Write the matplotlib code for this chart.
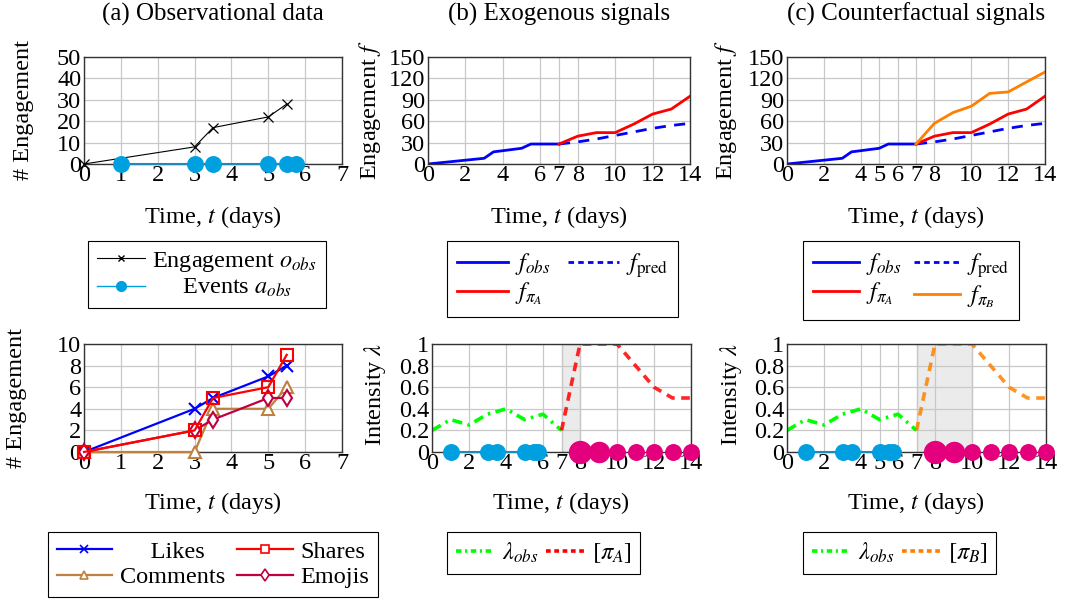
import matplotlib
matplotlib.use("Agg")
import matplotlib.pyplot as plt
from matplotlib.lines import Line2D
from matplotlib.ticker import FormatStrFormatter

plt.rcParams["font.family"] = ["Liberation Serif", "DejaVu Serif"]
plt.rcParams["mathtext.fontset"] = "stix"

# ---- data ----
obs_days = [0, 3, 3.5, 5, 5.5]
engagement_obs = [0, 8, 17, 22, 28]
event_days = [1, 3, 3.5, 5, 5.5, 5.75]

likes = [0, 4, 5, 7, 8]
shares = [0, 2, 5, 6, 9]
comments = [0, 0, 4, 4, 6]
emojis = [0, 2, 3, 5, 5]

f_obs_t = [0, 3, 3.5, 5, 5.5, 7]
f_obs = [0, 8, 17, 22, 28, 28]
future_t = [7, 8, 9, 10, 11, 12, 13, 14]
f_pred = [28, 31, 35, 40, 45, 50, 54, 57]
f_pi_a = [28, 39, 44, 44, 56, 70, 77, 95]
f_pi_b = [28, 57, 72, 81, 99, 101, 115, 129]

lam_t = [0, 1, 2, 3, 4, 5, 6, 7]
lam_obs = [0.2, 0.3, 0.25, 0.35, 0.4, 0.3, 0.35, 0.2]
lam_pi = [0.2, 1, 1, 1, 0.8, 0.6, 0.5, 0.5]

treat_days = [8, 9, 10, 11, 12, 13, 14]
treat_count = [3, 2, 1, 1, 1, 1, 1]

window_a = (7, 8)
window_b = (7, 10)

ticks_a = [0, 1, 2, 3, 4, 5, 6, 7]
ticks_b = [0, 2, 4, 6, 7, 8, 10, 12, 14]
ticks_c = [0, 2, 4, 5, 6, 7, 8, 10, 12, 14]

# ---- colours ----
C_EVT = "#00a0e0"
C_EVT_LINE = "#2288b8"
C_TREAT = "#e4007c"
C_BROWN = "#bf8040"
C_PURPLE = "#bf0040"
C_GREEN = "#00ff00"
C_ORANGE = "#ff8000"

FS = 17.5

W, H = 1065, 610
fig = plt.figure(figsize=(W / 100, H / 100), dpi=100)


def box(x0, y0, x1, y1):
    return [x0 / W, 1 - y1 / H, (x1 - x0) / W, (y1 - y0) / H]


def style(ax, xlim, ylim, xticks, yticks):
    ax.set_xlim(*xlim)
    ax.set_ylim(*ylim)
    ax.set_xticks(xticks)
    ax.set_yticks(yticks)
    ax.yaxis.set_major_formatter(FormatStrFormatter("%g"))
    ax.grid(True, color="#c8c8c8", lw=0.9)
    ax.set_axisbelow(True)
    ax.tick_params(direction="in", length=0, labelsize=FS, pad=1)
    ax.tick_params(axis="y", pad=2)
    for s in ax.spines.values():
        s.set_color("#333333")
        s.set_linewidth(1)


def ftext(x, y, s, size=FS, **kw):
    fig.text(x / W, 1 - y / H, s, ha="center", va="center", fontsize=size, **kw)


def events(ax, days):
    ax.plot(days, [0] * len(days), color=C_EVT_LINE, lw=1.5, zorder=4, clip_on=False)
    ax.plot(days, [0] * len(days), "o", color=C_EVT, ms=12.2, mew=0, zorder=5, clip_on=False)


def treatments(ax):
    for d, n in zip(treat_days, treat_count):
        size = {1: 12.2, 2: 15.5, 3: 16.8}[n]
        ax.plot([d], [0], "o", color=C_TREAT, ms=size, mew=0, zorder=5, clip_on=False)


# ---- (a) top ----
ax = fig.add_axes(box(84, 57, 342, 164))
style(ax, (0, 7), (0, 50), ticks_a, [0, 10, 20, 30, 40, 50])
ax.plot(obs_days, engagement_obs, "-x", color="black", lw=0.8, ms=7, mew=0.9, zorder=3, clip_on=False)
events(ax, event_days)

# ---- (b) top ----
ax = fig.add_axes(box(428, 57, 690, 164))
style(ax, (0, 14), (0, 150), ticks_b, [0, 30, 60, 90, 120, 150])
ax.plot(f_obs_t, f_obs, color="blue", lw=2)
ax.plot(future_t, f_pred, color="blue", lw=2, dashes=(4, 3))
ax.plot(future_t, f_pi_a, color="red", lw=2)

# ---- (c) top ----
ax = fig.add_axes(box(787, 57, 1045, 164))
style(ax, (0, 14), (0, 150), ticks_c, [0, 30, 60, 90, 120, 150])
ax.plot(f_obs_t, f_obs, color="blue", lw=2)
ax.plot(future_t, f_pred, color="blue", lw=2, dashes=(4, 3))
ax.plot(future_t, f_pi_a, color="red", lw=2)
ax.plot(future_t, f_pi_b, color=C_ORANGE, lw=2)

# ---- (a) bottom ----
ax = fig.add_axes(box(84, 344, 342, 452))
style(ax, (0, 7), (0, 10), ticks_a, [0, 2, 4, 6, 8, 10])
mk = dict(lw=1.6, ms=8, mew=1.5, clip_on=False, zorder=4)
ax.plot(obs_days, likes, "-x", color="blue", **mk)
ax.plot(obs_days, comments, "-^", color=C_BROWN, mfc="white", **mk)
ax.plot(obs_days, emojis, "-d", color=C_PURPLE, mfc="white", **mk)
ax.plot(obs_days, shares, "-s", color="red", mfc="none", **mk)

# ---- (b) bottom ----
ax = fig.add_axes(box(432, 344, 691, 452))
style(ax, (0, 14), (0, 1), ticks_b, [0, 0.2, 0.4, 0.6, 0.8, 1])
ax.axvspan(*window_a, facecolor="#ebebeb", edgecolor="#808080", lw=0.8, zorder=0.5)
ax.plot(lam_t, lam_obs, color=C_GREEN, lw=2.6, dashes=(2.8, 1.5, 0.7, 1.5))
ax.plot(future_t, lam_pi, color="red", lw=2.6, dashes=(2.4, 1.8), alpha=0.85)
events(ax, event_days)
treatments(ax)

# ---- (c) bottom ----
ax = fig.add_axes(box(787, 344, 1046, 452))
style(ax, (0, 14), (0, 1), ticks_c, [0, 0.2, 0.4, 0.6, 0.8, 1])
ax.axvspan(*window_b, facecolor="#ebebeb", edgecolor="#808080", lw=0.8, zorder=0.5)
ax.plot(lam_t, lam_obs, color=C_GREEN, lw=2.6, dashes=(2.8, 1.5, 0.7, 1.5))
ax.plot(future_t, lam_pi, color=C_ORANGE, lw=2.6, dashes=(2.4, 1.8), alpha=0.85)
events(ax, event_days)
treatments(ax)

# ---- titles and labels ----
ftext(213, 14, "(a) Observational data", size=18)
ftext(559, 14, "(b) Exogenous signals", size=18)
ftext(916, 14, "(c) Counterfactual signals", size=18)
for cx in (213, 559, 916):
    ftext(cx, 217, "Time, $t$ (days)")
for cx in (213, 561, 916):
    ftext(cx, 503, "Time, $t$ (days)")
ftext(23, 110, "# Engagement", rotation=90)
ftext(370, 110, "Engagement $f$", rotation=90)
ftext(726, 110, "Engagement $f$", rotation=90)
ftext(17, 398, "# Engagement", rotation=90)
ftext(375, 394, "Intensity $\\lambda$", rotation=90)
ftext(731, 394, "Intensity $\\lambda$", rotation=90)


# ---- legends ----
def legend(handles, x0, y0, ncol, **kw):
    opts = dict(loc="upper left", bbox_to_anchor=(x0 / W, 1 - y0 / H), ncol=ncol,
                fancybox=False, edgecolor="black", framealpha=1, fontsize=FS,
                handlelength=2.0, handletextpad=0.3, columnspacing=0.3,
                labelspacing=0.15, borderpad=0.35, borderaxespad=0)
    opts.update(kw)
    leg = fig.legend(handles=handles, **opts)
    leg.get_frame().set_linewidth(0.8)
    return leg


h_eng = Line2D([], [], color="black", lw=0.8, marker="x", ms=5, label="Engagement $o_{obs}$")
h_evt = Line2D([], [], color=C_EVT, lw=1, marker="o", ms=8, mew=0, label="     Events $a_{obs}$")
legend([h_eng, h_evt], 88, 241, 1)

h_fobs = Line2D([], [], color="blue", lw=2, label="$f_{obs}$")
h_fpred = Line2D([], [], color="blue", lw=2, dashes=(2, 1.5), label="$f_{\\mathrm{pred}}$")
h_fa = Line2D([], [], color="red", lw=2, label="$f_{\\pi_A}$")
h_fb = Line2D([], [], color=C_ORANGE, lw=2, label="$f_{\\pi_B}$")
legend([h_fobs, h_fa, h_fpred], 447, 241, 2, handlelength=2.1, columnspacing=0.7, borderpad=0.4)
legend([h_fobs, h_fa, h_fpred, h_fb], 803, 241, 2, handlelength=1.9, columnspacing=0.5, borderpad=0.4)

lk = dict(lw=1.6, ms=6, mew=1.2)
h_likes = Line2D([], [], color="blue", marker="x", label="     Likes", **lk)
h_shares = Line2D([], [], color="red", marker="s", mfc="white", label="Shares", **lk)
h_comm = Line2D([], [], color=C_BROWN, marker="^", mfc="white", label="Comments", **lk)
h_emo = Line2D([], [], color=C_PURPLE, marker="d", mfc="white", label="Emojis", **lk)
legend([h_likes, h_comm, h_shares, h_emo], 48, 532, 2, handlelength=2.3, columnspacing=0.5)

h_lam = Line2D([], [], color=C_GREEN, lw=2.6, dashes=(1.5, 1, 0.6, 1), label="$\\lambda_{obs}$")
h_pa = Line2D([], [], color="red", lw=2.6, dashes=(1.3, 1), label="$[\\pi_A]$")
h_pb = Line2D([], [], color=C_ORANGE, lw=2.6, dashes=(1.3, 1), label="$[\\pi_B]$")
legend([h_lam, h_pa], 447, 532, 2, handlelength=1.6)
legend([h_lam, h_pb], 803, 532, 2, handlelength=1.6)

fig.savefig("out.png", dpi=100)
